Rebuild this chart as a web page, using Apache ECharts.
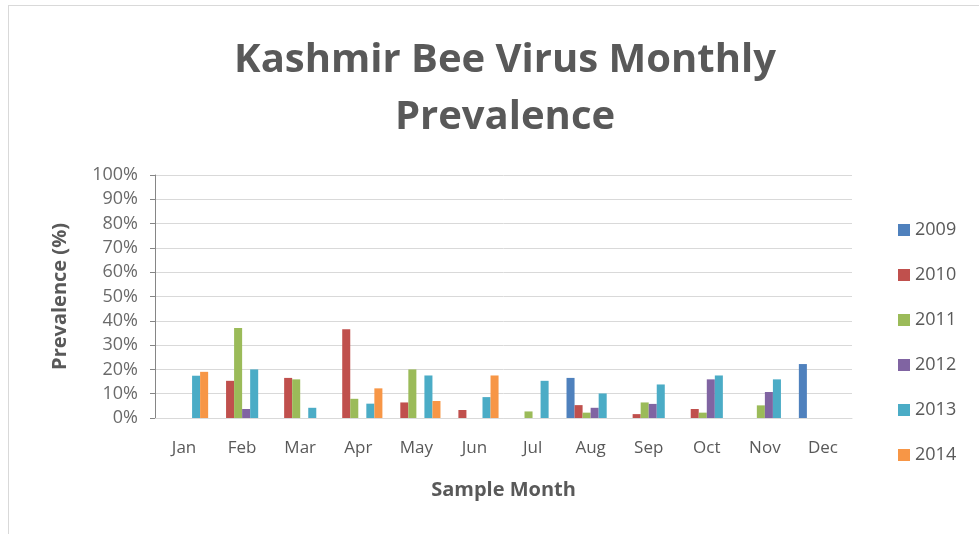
<!DOCTYPE html>
<html>
<head>
<meta charset="utf-8">
<script src="https://cdn.jsdelivr.net/npm/echarts@6/dist/echarts.min.js"></script>
<style>
    html, body { margin: 0; padding: 0; background: #fff; }
    #frame { position: absolute; left: 8px; top: 5px; width: 985px; height: 540px; border: 1px solid #d9d9d9; box-sizing: border-box; }
    #chart { position: absolute; left: 0; top: 0; width: 979px; height: 534px; }
</style>
</head>
<body>
<div id="frame"></div>
<div id="chart"></div>
<script>
    // 数据
    const months = ["Jan", "Feb", "Mar", "Apr", "May", "Jun", "Jul", "Aug", "Sep", "Oct", "Nov", "Dec"]
    const years = ["2009", "2010", "2011", "2012", "2013", "2014"]
    const colors = ["#4f81bd", "#c0504d", "#9bbb59", "#8064a2", "#4bacc6", "#f79646"]
    const y2009 = [null, null, null, null, null, null, null, 16.5, null, null, null, 22.2]
    const y2010 = [null, 15.3, 16.5, 36.5, 6.4, 3.3, null, 5.3, 1.6, 3.7, null, null]
    const y2011 = [null, 37.0, 15.9, 7.9, 20.0, null, 2.7, 2.2, 6.4, 2.2, 5.2, null]
    const y2012 = [null, 3.7, null, null, null, null, null, 4.2, 5.8, 15.9, 10.7, null]
    const y2013 = [17.4, 20.0, 4.2, 5.9, 17.5, 8.6, 15.3, 10.1, 13.8, 17.5, 15.9, null]
    const y2014 = [19.0, null, null, 12.2, 7.0, 17.5, null, null, null, null, null, null]
    const yearValues = [y2009, y2010, y2011, y2012, y2013, y2014]

    const chart = echarts.init(document.getElementById("chart"), null, { renderer: "canvas" })
    const font = "'Open Sans', 'Noto Sans', sans-serif"
    const grey = "#595959"

    const option = {
        animation: false,
        color: colors,
        textStyle: { fontFamily: font },
        title: {
            text: "Kashmir Bee Virus Monthly\nPrevalence",
            left: 500,
            textAlign: "center",
            top: 27,
            textStyle: { fontSize: 40, fontWeight: "bold", color: grey, lineHeight: 57, fontFamily: font },
        },
        legend: {
            orient: "vertical",
            left: 893,
            top: 216,
            itemGap: 27,
            itemWidth: 12,
            itemHeight: 12,
            icon: "rect",
            textStyle: { fontSize: 18, color: grey, fontFamily: font },
            data: years,
        },
        grid: { left: 155, right: 127, top: 175, bottom: 116 },
        xAxis: {
            type: "category",
            data: months,
            name: "Sample Month",
            nameLocation: "middle",
            nameGap: 62,
            nameTextStyle: { fontSize: 20, fontWeight: "bold", color: grey, fontFamily: font },
            axisTick: { show: false },
            axisLine: { show: true, lineStyle: { color: "#d9d9d9" } },
            axisLabel: { fontSize: 17, color: grey, margin: 22 },
        },
        yAxis: {
            type: "value",
            min: 0,
            max: 100,
            interval: 10,
            name: "Prevalence (%)",
            nameLocation: "middle",
            nameGap: 85,
            nameTextStyle: { fontSize: 20, fontWeight: "bold", color: grey, fontFamily: font },
            axisLine: { show: true, lineStyle: { color: "#868686" } },
            axisTick: { show: true, length: 5, lineStyle: { color: "#868686" } },
            axisLabel: { formatter: "{value}%", fontSize: 18, color: "#6a6a6a", margin: 17 },
            splitLine: { lineStyle: { color: "#d9d9d9", width: 1 } },
        },
        series: years.map((y, i) => ({
            name: y,
            type: "bar",
            data: yearValues[i],
            barGap: "0%",
            barCategoryGap: "17%",
        })),
    }
    chart.setOption(option)
</script>
</body>
</html>
